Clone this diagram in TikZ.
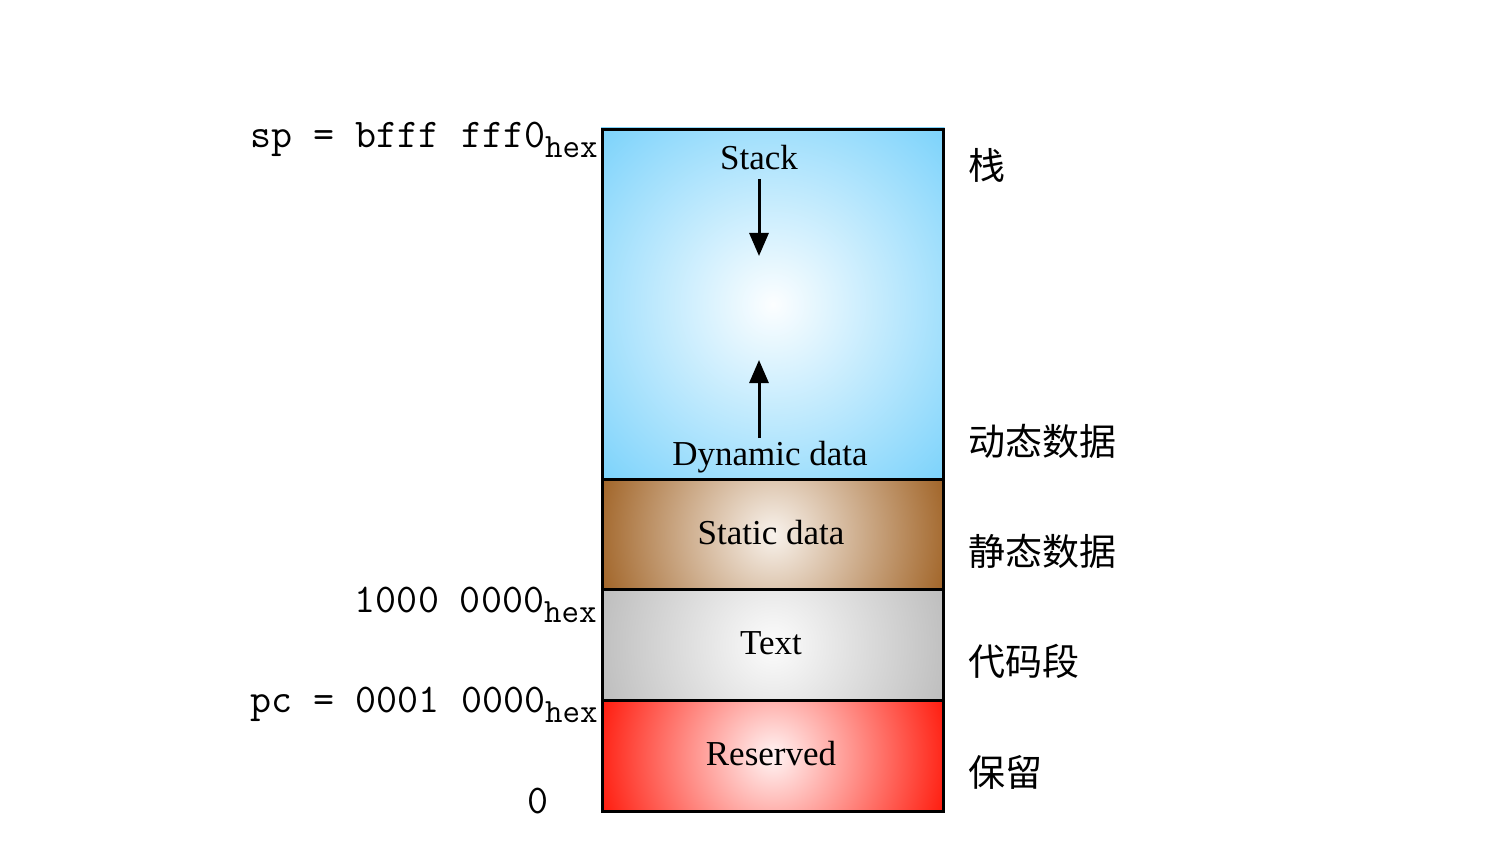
\documentclass[tikz,border=0pt]{standalone}
\usepackage{fontspec}
\setmainfont{Liberation Serif}
\setmonofont{Latin Modern Mono}
\newfontfamily\cjk{Noto Sans CJK SC}
\usetikzlibrary{arrows.meta,backgrounds}
\definecolor{stackout}{HTML}{7AD2FB}
\definecolor{stackin}{HTML}{FCFEFF}
\definecolor{statout}{HTML}{A2662A}
\definecolor{statin}{HTML}{F8F2EC}
\definecolor{textout}{HTML}{BEBEBE}
\definecolor{textin}{HTML}{FCFCFC}
\definecolor{resout}{HTML}{FF1E10}
\definecolor{resin}{HTML}{FFF4F4}
\newcommand\hexsub{\raisebox{-5pt}{\fontsize{17}{19}\selectfont hex}}
\begin{document}
\begin{tikzpicture}[x=0.5pt,y=-0.5pt,
  seg/.style={draw=black, line width=1.3pt, minimum width=170.5pt, inner sep=0pt, anchor=north west},
  lbl/.style={font=\fontsize{17.5}{20}\selectfont, inner sep=0pt},
  addr/.style={font=\ttfamily\fontsize{20.4}{22}\selectfont, anchor=base east, inner sep=0pt},
  cn/.style={font=\cjk\fontsize{18.5}{22}\selectfont, anchor=west, inner sep=0pt},
  arr/.style={line width=1.5pt, -{Triangle[width=9.5pt,length=11.5pt]}}]
\useasboundingbox (0,0) rectangle (1490,856);
% segments
\node[seg, minimum height=175pt] (stack) at (601,128) {};
\node[seg, minimum height=55pt] (static) at (601,478) {};
\node[seg, minimum height=55.5pt] (text) at (601,588) {};
\node[seg, minimum height=55.5pt] (res) at (601,699) {};
\begin{scope}[on background layer]
  \begin{scope}
    \clip (stack.north west) rectangle (stack.south east);
    \shade[inner color=stackin, outer color=stackout] (stack.center) circle (124pt);
  \end{scope}
  \begin{scope}
    \clip (static.north west) rectangle (static.south east);
    \shade[inner color=statin, outer color=statout] (static.center) circle (89pt);
  \end{scope}
  \begin{scope}
    \clip (text.north west) rectangle (text.south east);
    \shade[inner color=textin, outer color=textout] (text.center) circle (89pt);
  \end{scope}
  \begin{scope}
    \clip (res.north west) rectangle (res.south east);
    \shade[inner color=resin, outer color=resout] (res.center) circle (89pt);
  \end{scope}
\end{scope}
% labels in segments
\node[lbl] (lstack) at (759,158) {Stack};
\node[lbl] (ldyn) at (770,457) {Dynamic data};
\node[lbl] (lstat) at (771,533) {Static data};
\node[lbl] (ltext) at (771,643) {Text};
\node[lbl] (lres) at (771,754) {Reserved};
% arrows
\coordinate (a1s) at (759,179);
\coordinate (a1e) at (759,256);
\coordinate (a2s) at (759,438);
\coordinate (a2e) at (759,360);
\draw[arr] (a1s) -- (a1e);
\draw[arr] (a2s) -- (a2e);
% addresses
\node[addr] (sp) at (598,148) {sp = bfff fff0\hexsub};
\node[addr] (mid) at (597,612) {1000 0000\hexsub};
\node[addr] (pc) at (598,712) {pc = 0001 0000\hexsub};
\node[addr, anchor=center] (zero) at (538,801) {0};
% chinese labels
\node[cn] (c1) at (968,165) {栈};
\node[cn] (c2) at (968,441) {动态数据};
\node[cn] (c3) at (968,551) {静态数据};
\node[cn] (c4) at (968,661) {代码段};
\node[cn] (c5) at (968,772) {保留};
\end{tikzpicture}
\end{document}
